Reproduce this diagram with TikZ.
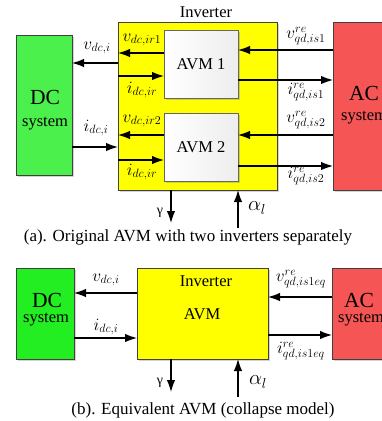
\documentclass[tikz,border=0pt]{standalone}
\usepackage{fontspec}
\setmainfont{Liberation Serif}
\usepackage{tikz}
\usetikzlibrary{positioning, calc, arrows.meta, shadows}
\definecolor{DCGreen}{HTML}{4CF04C}
\definecolor{DCGreenEq}{HTML}{22EE22}
\definecolor{InvYellow}{HTML}{FFFF00}
\definecolor{ACRed}{HTML}{F55555}
\definecolor{BoxBorder}{HTML}{404040}

\tikzset{
  blockbox/.style={draw=BoxBorder, line width=1pt, inner sep=0pt, outer sep=0pt,
    drop shadow={opacity=0.35, shadow xshift=1.5pt, shadow yshift=-1.5pt}},
  avmbox/.style={blockbox, draw=gray!80!black, left color=white, right color=gray!14,
    minimum width=74pt, minimum height=68pt},
  sig/.style={-{Latex[length=12pt,width=8.5pt]}, line width=1.2pt},
  siglbl/.style={font=\fontsize{18}{21}\selectfont},
  bigtxt/.style={font=\fontsize{21.5}{24}\selectfont},
  smalltxt/.style={font=\fontsize{14}{16}\selectfont},
  alphatxt/.style={font=\fontsize{19.5}{22}\selectfont}
}

\begin{document}
\begin{tikzpicture}[x=1pt, y=-1pt, font=\fontsize{16.5}{19}\selectfont]
  \useasboundingbox (0,0) rectangle (382,421);

  % (a) Original AVM
  \node[blockbox, fill=DCGreen, minimum width=56pt, minimum height=140pt] (dc1) at (44,105) {};
  \node[blockbox, fill=InvYellow, minimum width=159pt, minimum height=168pt] (inv1) at (197.5,106) {};
  \node[avmbox] (avm1) at (201,64) {AVM 1};
  \node[avmbox] (avm2) at (201,147.5) {AVM 2};
  \node[blockbox, fill=ACRed, minimum width=62pt, minimum height=168pt] (ac1) at (364,106) {};

  \node[bigtxt] (dc1t) at (45,97) {DC};
  \node (dc1s) at (45,124) {system};
  \node[bigtxt] (ac1t) at (364,93) {AC};
  \node (ac1s) at (364,118) {system};
  \node (inv1t) at (206,12) {Inverter};

  % DC side
  \draw[sig] ([yshift=43pt]inv1.west) -- ([yshift=42pt]dc1.east);
  \draw[sig] ([yshift=-42pt]dc1.east) -- ([yshift=-41pt]inv1.west);
  \node[siglbl] (lvdc1) at (97,48) {$v_{dc,i}$};
  \node[siglbl] (lidc1) at (96,128) {$i_{dc,i}$};

  % inside the inverter
  \draw[sig] ([yshift=11pt]avm1.west) -- ([yshift=53pt]inv1.west);
  \draw[sig] ([yshift=30pt]inv1.west) -- ([yshift=-12pt]avm1.west);
  \draw[sig] ([yshift=12.5pt]avm2.west) -- ([yshift=-29pt]inv1.west);
  \draw[sig] ([yshift=-54pt]inv1.west) -- ([yshift=-12.5pt]avm2.west);
  \node[siglbl] (lvir1) at (142,40) {$v_{dc,ir1}$};
  \node[siglbl] (lidr1) at (142,90) {$i_{dc,ir}$};
  \node[siglbl] (lvir2) at (142,121) {$v_{dc,ir2}$};
  \node[siglbl] (lidr2) at (142,172) {$i_{dc,ir}$};

  % AC side
  \draw[sig] ([yshift=56pt]ac1.west) -- ([yshift=14pt]avm1.east);
  \draw[sig] ([yshift=-16pt]avm1.east) -- ([yshift=26pt]ac1.west);
  \draw[sig] ([yshift=-29pt]ac1.west) -- ([yshift=12.5pt]avm2.east);
  \draw[sig] ([yshift=-18.5pt]avm2.east) -- ([yshift=-60pt]ac1.west);
  \node[siglbl] (lvqd1) at (306,36) {$v^{re}_{qd,is1}$};
  \node[siglbl] (liqd1) at (306,92) {$i^{re}_{qd,is1}$};
  \node[siglbl] (lvqd2) at (306,120) {$v^{re}_{qd,is2}$};
  \node[siglbl] (liqd2) at (306,176) {$i^{re}_{qd,is2}$};

  % gamma and alpha
  \coordinate (gam1) at (171,223);
  \coordinate (alp1) at (238,228);
  \draw[sig] ([xshift=-26.5pt]inv1.south) -- (gam1);
  \draw[sig] (alp1) -- ([xshift=40.5pt]inv1.south);
  \node[smalltxt] (lgam1) at (160,213) {γ};
  \node[alphatxt] (lalp1) at (257,208) {$\alpha_l$};

  \node[font=\fontsize{17}{20}\selectfont] (capa) at (188,237) {(a). Original AVM with two inverters separately};

  % (b) Equivalent AVM
  \node[blockbox, fill=DCGreenEq, minimum width=58pt, minimum height=91pt] (dc2) at (45,313.5) {};
  \node[blockbox, fill=InvYellow, minimum width=131pt, minimum height=91pt] (inv2) at (202.5,313.5) {};
  \node[blockbox, fill=ACRed, minimum width=60pt, minimum height=91pt] (ac2) at (362,313.5) {};

  \node[bigtxt] (dc2t) at (47,300) {DC};
  \node (dc2s) at (46,320) {system};
  \node (inv2t) at (206,281) {Inverter};
  \node (inv2a) at (202,314) {AVM};
  \node[bigtxt] (ac2t) at (359,300) {AC};
  \node (ac2s) at (361,320) {system};

  \draw[sig] ([yshift=20.5pt]inv2.west) -- ([yshift=20.5pt]dc2.east);
  \draw[sig] ([yshift=-24.5pt]dc2.east) -- ([yshift=-24.5pt]inv2.west);
  \node[siglbl] (lvdc2) at (106,280) {$v_{dc,i}$};
  \node[siglbl] (lidc2) at (106,327) {$i_{dc,i}$};

  \draw[sig] ([yshift=16.5pt]ac2.west) -- ([yshift=16.5pt]inv2.east);
  \draw[sig] ([yshift=-21.5pt]inv2.east) -- ([yshift=-21.5pt]ac2.west);
  \node[siglbl] (lvqd3) at (301,279) {$v^{re}_{qd,is1eq}$};
  \node[siglbl] (liqd3) at (301,351) {$i^{re}_{qd,is1eq}$};

  \coordinate (gam2) at (171,392);
  \coordinate (alp2) at (238,397);
  \draw[sig] ([xshift=-31.5pt]inv2.south) -- (gam2);
  \draw[sig] (alp2) -- ([xshift=35.5pt]inv2.south);
  \node[smalltxt] (lgam2) at (160,383) {γ};
  \node[alphatxt] (lalp2) at (258,382) {$\alpha_l$};

  \node[font=\fontsize{17}{20}\selectfont] (capb) at (203,410) {(b). Equivalent AVM (collapse model)};
\end{tikzpicture}
\end{document}
